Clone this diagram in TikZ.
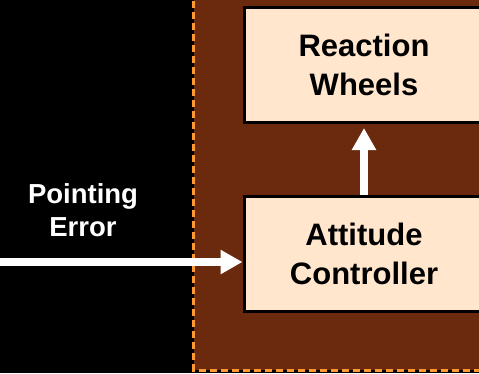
\documentclass[tikz,border=0pt]{standalone}
\usepackage{fontspec}
\setmainfont{Liberation Sans}
\usetikzlibrary{arrows.meta}
\definecolor{panel}{HTML}{6B2A0E}
\definecolor{blockfill}{HTML}{FFE6CC}
\definecolor{edge}{HTML}{FF9A33}
\begin{document}
\begin{tikzpicture}[x=1pt,y=-1pt,
  block/.style={draw=black, line width=3pt, fill=blockfill, minimum width=240pt,
    minimum height=115pt, inner sep=0pt, align=center, text=black,
    font=\bfseries\fontsize{31}{39}\selectfont},
  label/.style={text=white, align=center, font=\bfseries\fontsize{27.5}{33}\selectfont},
  flow/.style={draw=white, line width=8pt, -{Triangle[length=22pt,width=23pt]}},
  border/.style={draw=edge, line width=3pt, dash pattern=on 7pt off 4pt}]
  % background and the brown subsystem panel
  \useasboundingbox (0,0) rectangle (479,373);
  \fill[black] (0,0) rectangle (479,373);
  \fill[panel] (193.5,-10) rectangle (500,370);
  \draw[border] (193.5,-10) -- (193.5,370) -- (500,370);
  % blocks
  \node[block] (rw) at (364,65) {Reaction\\Wheels};
  \node[block] (ac) at (364,254) {Attitude\\Controller};
  % input signal
  \node[label] (pe) at (83,210) {Pointing\\Error};
  \coordinate (src) at (-5,262);
  \draw[flow] (src) -- (src -| ac.west);
  \draw[flow, shorten >=4pt] (ac.north) -- (rw.south);
\end{tikzpicture}
\end{document}
